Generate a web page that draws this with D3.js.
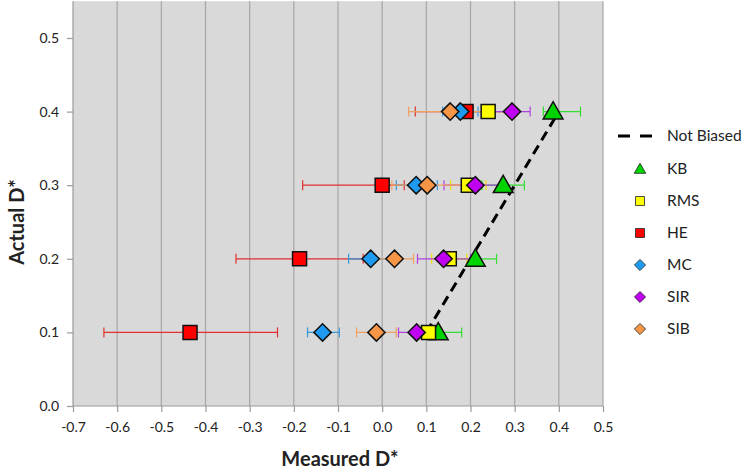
<!DOCTYPE html>
<html><head><meta charset="utf-8">
<script src="https://cdn.jsdelivr.net/npm/d3@7"></script>
<style>body{margin:0;background:#fff;} svg{display:block;}</style>
</head><body>
<svg id="c" width="750" height="475"></svg>
<script>
const actual = [0.1, 0.2, 0.3, 0.4];
const seriesNames = ["KB", "RMS", "HE", "MC", "SIR", "SIB"];
const kbX = [0.127, 0.211, 0.274, 0.387];
const kbLo = [0.077, 0.163, 0.226, 0.365];
const kbHi = [0.180, 0.259, 0.322, 0.449];
const rmsX = [0.105, 0.152, 0.195, 0.240];
const rmsLo = [0.075, 0.112, 0.155, 0.195];
const rmsHi = [0.135, 0.192, 0.235, 0.285];
const heX = [-0.435, -0.187, 0.0, 0.190];
const heLo = [-0.63, -0.331, -0.18, 0.075];
const heHi = [-0.237, -0.043, 0.05, 0.305];
const mcX = [-0.135, -0.026, 0.077, 0.177];
const mcLo = [-0.169, -0.076, 0.032, 0.137];
const mcHi = [-0.097, 0.024, 0.125, 0.217];
const sirX = [0.078, 0.139, 0.211, 0.294];
const sirLo = [0.037, 0.080, 0.140, 0.250];
const sirHi = [0.120, 0.200, 0.280, 0.335];
const sibX = [-0.013, 0.028, 0.102, 0.154];
const sibLo = [-0.058, -0.015, 0.022, 0.060];
const sibHi = [0.032, 0.071, 0.182, 0.250];
const notBiased = [0.1, 0.4];
const xTicks = [-0.7,-0.6,-0.5,-0.4,-0.3,-0.2,-0.1,0.0,0.1,0.2,0.3,0.4,0.5];
const yTicks = [0.0,0.1,0.2,0.3,0.4,0.5];

const series = [
  {name:"KB", x:kbX, lo:kbLo, hi:kbHi, shape:"tri", fill:"#00d400", bar:"#33dd33"},
  {name:"RMS", x:rmsX, lo:rmsLo, hi:rmsHi, shape:"sq", fill:"#ffff00", bar:"#f0e000"},
  {name:"HE", x:heX, lo:heLo, hi:heHi, shape:"sq", fill:"#ff0000", bar:"#e03030"},
  {name:"MC", x:mcX, lo:mcLo, hi:mcHi, shape:"dia", fill:"#1e9bf0", bar:"#3399dd"},
  {name:"SIR", x:sirX, lo:sirLo, hi:sirHi, shape:"dia", fill:"#c000f0", bar:"#b040e0"},
  {name:"SIB", x:sibX, lo:sibLo, hi:sibHi, shape:"dia", fill:"#f79646", bar:"#f0a060"}
];

const svg = d3.select("#c");
const L=73, R=603, B=406;
const x = d3.scaleLinear().domain([-0.7,0.5]).range([L,R]);
const y = d3.scaleLinear().domain([0,0.55]).range([B, B-0.55*(B-38)/0.5]);
const font = "Lato, 'Open Sans', sans-serif";

svg.append("rect").attr("x",L).attr("y",y(0.55)).attr("width",R-L).attr("height",B-y(0.55)).attr("fill","#d9d9d9");
svg.append("g").selectAll("line").data(xTicks.slice(1)).join("line")
  .attr("x1",d=>x(d)).attr("x2",d=>x(d)).attr("y1",y(0.55)).attr("y2",B)
  .attr("stroke","#a6a6a6").attr("stroke-width",1.2);

const xAxis = svg.append("g").attr("transform",`translate(0,${B})`)
  .call(d3.axisBottom(x).tickValues(xTicks).tickFormat(d3.format(".1f")).tickSize(6).tickPadding(10));
const yAxis = svg.append("g").attr("transform",`translate(${L},0)`)
  .call(d3.axisLeft(y).tickValues(yTicks).tickFormat(d3.format(".1f")).tickSize(6).tickPadding(8));
[xAxis,yAxis].forEach(a=>{
  a.select(".domain").attr("stroke","#9a9a9a").attr("stroke-width",1.2);
  a.selectAll(".tick line").attr("stroke","#9a9a9a").attr("stroke-width",1.2);
  a.selectAll("text").attr("font-family",font).attr("font-size",14).attr("fill","#222");
});
yAxis.select(".domain").attr("d",`M0,${y(0.55)}V${B}`);
xAxis.select(".domain").attr("d",`M${L},0H${R}`);
xAxis.selectAll(".tick text").text(d=>d3.format(".1f")(d).replace("−","-"));
yAxis.selectAll(".tick text").text(d=>d3.format(".1f")(d));

svg.append("text").attr("x",(L+R)/2+2).attr("y",466).attr("text-anchor","middle")
  .attr("font-family",font).attr("font-weight","bold").attr("font-size",20).attr("fill","#222").text("Measured D*");
svg.append("text").attr("transform",`translate(24,${222}) rotate(-90)`).attr("text-anchor","middle")
  .attr("font-family",font).attr("font-weight","bold").attr("font-size",20).attr("fill","#222").text("Actual D*");

function shapePath(shape, s){
  if(shape==="sq") return `M${-s/2},${-s/2}h${s}v${s}h${-s}Z`;
  if(shape==="dia"){const h=s*0.62;return `M0,${-h}L${h},0L0,${h}L${-h},0Z`;}
  const h=s*0.58; return `M0,${-h}L${h},${h*0.75}L${-h},${h*0.75}Z`;
}

svg.append("line").attr("x1",x(notBiased[0])).attr("y1",y(notBiased[0])).attr("x2",x(notBiased[1])).attr("y2",y(notBiased[1]))
  .attr("stroke","#000").attr("stroke-width",3).attr("stroke-dasharray","10,6");

series.forEach(s=>{
  const g = svg.append("g");
  actual.forEach((a,i)=>{
    const yy=y(a);
    g.append("line").attr("x1",x(s.lo[i])).attr("x2",x(s.hi[i])).attr("y1",yy).attr("y2",yy).attr("stroke",s.bar).attr("stroke-width",1.2);
    [s.lo[i],s.hi[i]].forEach(v=>g.append("line").attr("x1",x(v)).attr("x2",x(v)).attr("y1",yy-5).attr("y2",yy+5).attr("stroke",s.bar).attr("stroke-width",1.2));
  });
});
series.forEach(s=>{
  svg.append("g").selectAll("path").data(actual).join("path")
    .attr("transform",(a,i)=>`translate(${x(s.x[i])},${y(a)})`)
    .attr("d",shapePath(s.shape, s.shape==="tri"?17:14))
    .attr("fill",s.fill).attr("stroke","#111").attr("stroke-width",1.5);
});

const lg = svg.append("g");
lg.append("line").attr("x1",618).attr("x2",654).attr("y1",136).attr("y2",136).attr("stroke","#000").attr("stroke-width",3).attr("stroke-dasharray","12,10");
lg.append("text").attr("x",667).attr("y",141).attr("font-family",font).attr("font-size",15.5).attr("fill","#222").text("Not Biased");
series.forEach((s,i)=>{
  const yy = 169 + i*32;
  lg.append("path").attr("transform",`translate(640,${yy})`).attr("d",shapePath(s.shape, s.shape==="tri"?10:9))
    .attr("fill",s.fill).attr("stroke","#222").attr("stroke-width",0.8);
  lg.append("text").attr("x",667).attr("y",yy+5).attr("font-family",font).attr("font-size",15.5).attr("fill","#222").text(s.name);
});
</script>
</body></html>
